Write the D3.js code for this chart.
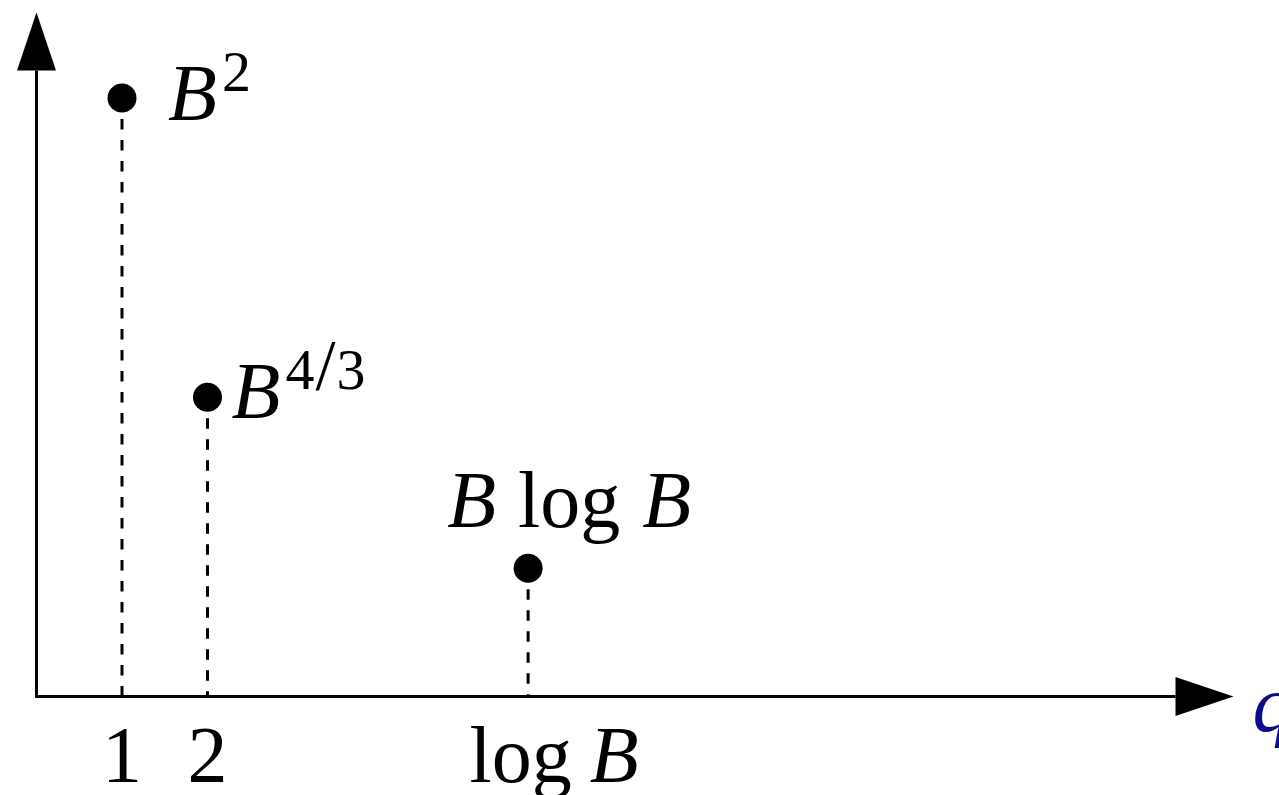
<!DOCTYPE html>
<html>
<head>
<meta charset="utf-8">
<script src="https://cdn.jsdelivr.net/npm/d3@7"></script>
<style>
  html, body { margin: 0; padding: 0; background: #fff; }
  svg { display: block; }
  text { font-family: "Liberation Serif", "Times New Roman", serif; fill: #000; }
</style>
</head>
<body>
<svg id="chart" width="1279" height="795"></svg>
<script>
// Cost of each method: position along q and height above the axis
const pointX = [1, 2, 5.75];
const pointY = [7, 3.5, 1.5];
// Point labels: pieces of each formula (i = italic, r = roman, s = superscript)
const pointLabels = [
  [{ t: "B", k: "i" }, { t: "2", k: "s" }],
  [{ t: "B", k: "i" }, { t: "4", k: "s" }, { t: "/", k: "s", big: true }, { t: "3", k: "s" }],
  [{ t: "B", k: "i" }, { t: "log", k: "r", gap: 22 }, { t: "B", k: "i", gap: 22 }]
];
// Axis tick labels at the q positions
const tickValues = [1, 2, 5.75];
const tickLabels = [
  [{ t: "1", k: "r" }],
  [{ t: "2", k: "r" }],
  [{ t: "log", k: "r" }, { t: "B", k: "i", gap: 18 }]
];
const axisLabel = "q";
const xDomain = [0, 14];
const yDomain = [0, 8];

const svg = d3.select("#chart");
const x = d3.scaleLinear().domain(xDomain).range([36.5, 1233.5]);
const y = d3.scaleLinear().domain(yDomain).range([696.5, 12.5]);

const stroke = 3;
const headLen = 58, headHalf = 19.5;
const fontSize = 80, supSize = 58, slashSize = 72, supRaise = 29;

// Axes with filled triangular heads
const x0 = x(0), y0 = y(0), xEnd = x(xDomain[1]), yEnd = y(yDomain[1]);
svg.append("path")
  .attr("d", `M${x0},${yEnd + headLen} L${x0},${y0} L${xEnd - headLen},${y0}`)
  .attr("fill", "none").attr("stroke", "#000").attr("stroke-width", stroke)
  .attr("stroke-linejoin", "miter");
svg.append("path")
  .attr("d", `M${xEnd},${y0} L${xEnd - headLen},${y0 - headHalf} L${xEnd - headLen},${y0 + headHalf} Z`)
  .attr("fill", "#000");
svg.append("path")
  .attr("d", `M${x0},${yEnd} L${x0 - headHalf},${yEnd + headLen} L${x0 + headHalf},${yEnd + headLen} Z`)
  .attr("fill", "#000");

// Dashed drop lines from each point to the q axis
svg.selectAll("line.drop").data(pointX).join("line")
  .attr("class", "drop")
  .attr("x1", d => x(d)).attr("x2", d => x(d))
  .attr("y1", (d, i) => y(pointY[i])).attr("y2", y0 - 1.5)
  .attr("stroke", "#000").attr("stroke-width", stroke)
  .attr("stroke-dasharray", "10.5 10.5");

// Points
svg.selectAll("circle.pt").data(pointX).join("circle")
  .attr("class", "pt")
  .attr("cx", d => x(d)).attr("cy", (d, i) => y(pointY[i]))
  .attr("r", 14.5).attr("fill", "#000");

// Renders a formula as one text element built from tspans
function formula(sel, pieces) {
  let raised = false;
  pieces.forEach(p => {
    const ts = sel.append("tspan").text(p.t);
    if (p.k === "i") ts.attr("font-style", "italic");
    const sup = p.k === "s";
    if (sup) ts.attr("font-size", p.big ? slashSize : supSize);
    if (sup && !raised) ts.attr("dy", -supRaise).attr("dx", 5);
    else if (!sup && raised) ts.attr("dy", supRaise);
    else if (sup) ts.attr("dx", 1);
    raised = sup;
    if (p.gap) ts.attr("dx", p.gap);
  });
}

// Label placement relative to each point: [dx, dy]
const labelOffsets = [[46, 22], [24, 21], [-81, -41]];
pointLabels.forEach((pieces, i) => {
  const t = svg.append("text")
    .attr("x", x(pointX[i]) + labelOffsets[i][0])
    .attr("y", y(pointY[i]) + labelOffsets[i][1])
    .attr("font-size", fontSize);
  formula(t, pieces);
});

// Tick labels below the axis
const tickShift = [0, 0, 26];
tickLabels.forEach((pieces, i) => {
  const t = svg.append("text")
    .attr("x", x(tickValues[i]) + tickShift[i])
    .attr("y", y0 + 85)
    .attr("text-anchor", "middle")
    .attr("font-size", fontSize);
  formula(t, pieces);
});

// Axis name past the arrow head
svg.append("text")
  .attr("x", xEnd + 19).attr("y", y0 + 34)
  .attr("font-size", fontSize).attr("font-style", "italic")
  .style("fill", "#0b0b8c")
  .text(axisLabel);
</script>
</body>
</html>
